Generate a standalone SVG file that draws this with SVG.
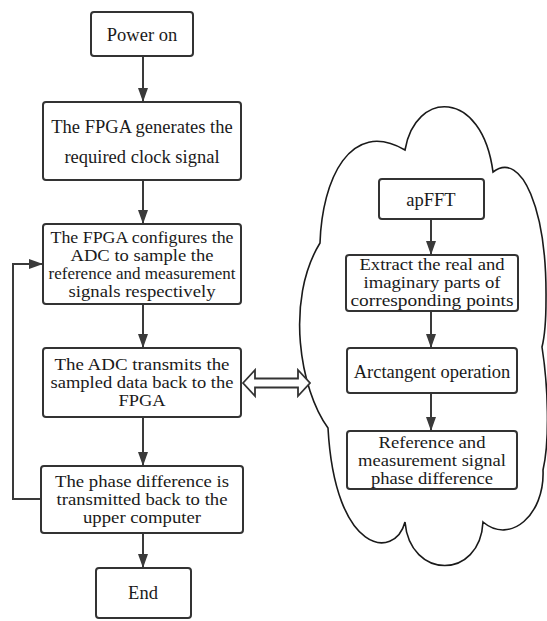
<svg xmlns="http://www.w3.org/2000/svg" width="547" height="621" viewBox="0 0 547 621">
<style>
.box{fill:#fff;stroke:#333;stroke-width:2}
text{font-family:'Liberation Serif','DejaVu Serif',serif;font-size:18.5px;fill:#1a1a1a;text-anchor:middle}
.s{font-size:16.3px}
.c{fill:none;stroke:#3a3a3a;stroke-width:2}
.cloud{fill:#fff;stroke:#1a1a1a;stroke-width:1.6}
</style>
<defs>
<marker id="ah" markerUnits="userSpaceOnUse" markerWidth="14" markerHeight="10" refX="14" refY="5" orient="auto">
<path d="M0,0 L14,5 L0,10 z" fill="#3a3a3a"/>
</marker>
</defs>
<rect width="547" height="621" fill="#fff"/>
<g id="cloud">
<path class="cloud" d="M320,243 C322,180 350,118 405,150 C415,90 482,88 493,172 C522,150 547,210 546,300 C546,320 545,335 542,347 C548,385 550,440 543,470 C545,515 510,545 483,522 C480,580 410,580 405,522 C395,560 335,555 328,428 C300,390 285,300 320,243 Z"/>
</g>
<g id="connectors">
<line class="c" x1="143" y1="56" x2="143" y2="102" marker-end="url(#ah)"/>
<line class="c" x1="143" y1="180" x2="143" y2="224" marker-end="url(#ah)"/>
<line class="c" x1="143" y1="304" x2="143" y2="348" marker-end="url(#ah)"/>
<line class="c" x1="143" y1="417" x2="143" y2="466" marker-end="url(#ah)"/>
<line class="c" x1="143" y1="533" x2="143" y2="568" marker-end="url(#ah)"/>
<path class="c" d="M41,499 H13 V264 H43" marker-end="url(#ah)"/>
<line class="c" x1="431" y1="219" x2="431" y2="255" marker-end="url(#ah)"/>
<line class="c" x1="431" y1="311" x2="431" y2="348" marker-end="url(#ah)"/>
<line class="c" x1="431" y1="393" x2="431" y2="431" marker-end="url(#ah)"/>
<polygon points="243,383 255,370 255,378.5 298,378.5 298,370 310,383 298,396 298,387.5 255,387.5 255,396" fill="#fff" stroke="#333" stroke-width="1.8"/>
</g>
<g id="power-on">
<rect class="box" x="91" y="12" width="102" height="44" rx="3"/>
<text x="142" y="41">Power on</text>
</g>
<g id="clock">
<rect class="box" x="43" y="102" width="198" height="78" rx="3"/>
<text x="142" y="133">The FPGA generates the</text>
<text x="142" y="163">required clock signal</text>
</g>
<g id="configure">
<rect class="box" x="43" y="224" width="198" height="80" rx="3"/>
<text class="s" x="142" y="243" textLength="183" lengthAdjust="spacingAndGlyphs">The FPGA configures the</text>
<text class="s" x="142" y="261" textLength="143" lengthAdjust="spacingAndGlyphs">ADC to sample the</text>
<text class="s" x="142" y="279" textLength="187" lengthAdjust="spacingAndGlyphs">reference and measurement</text>
<text class="s" x="142" y="297" textLength="147" lengthAdjust="spacingAndGlyphs">signals respectively</text>
</g>
<g id="transmit">
<rect class="box" x="43" y="348" width="198" height="69" rx="3"/>
<text class="s" x="142" y="370" textLength="175" lengthAdjust="spacingAndGlyphs">The ADC transmits the</text>
<text class="s" x="142" y="388" textLength="183" lengthAdjust="spacingAndGlyphs">sampled data back to the</text>
<text class="s" x="142" y="406" textLength="47" lengthAdjust="spacingAndGlyphs">FPGA</text>
</g>
<g id="phase">
<rect class="box" x="41" y="466" width="202" height="67" rx="3"/>
<text class="s" x="142" y="487" textLength="174" lengthAdjust="spacingAndGlyphs">The phase difference is</text>
<text class="s" x="142" y="505" textLength="171" lengthAdjust="spacingAndGlyphs">transmitted back to the</text>
<text class="s" x="142" y="523" textLength="118" lengthAdjust="spacingAndGlyphs">upper computer</text>
</g>
<g id="end">
<rect class="box" x="96" y="568" width="95" height="50" rx="3"/>
<text x="143" y="599">End</text>
</g>
<g id="apfft">
<rect class="box" x="379" y="179" width="105" height="40" rx="3"/>
<text x="431" y="206">apFFT</text>
</g>
<g id="extract">
<rect class="box" x="346" y="255" width="172" height="56" rx="3"/>
<text class="s" x="432" y="270" textLength="145" lengthAdjust="spacingAndGlyphs">Extract the real and</text>
<text class="s" x="432" y="288" textLength="137" lengthAdjust="spacingAndGlyphs">imaginary parts of</text>
<text class="s" x="432" y="306" textLength="163" lengthAdjust="spacingAndGlyphs">corresponding points</text>
</g>
<g id="arctan">
<rect class="box" x="347" y="348" width="170" height="45" rx="3"/>
<text x="432" y="378">Arctangent operation</text>
</g>
<g id="result">
<rect class="box" x="347" y="431" width="170" height="58" rx="3"/>
<text class="s" x="432" y="448" textLength="107" lengthAdjust="spacingAndGlyphs">Reference and</text>
<text class="s" x="432" y="466" textLength="148" lengthAdjust="spacingAndGlyphs">measurement signal</text>
<text class="s" x="432" y="484" textLength="122" lengthAdjust="spacingAndGlyphs">phase difference</text>
</g>
</svg>
